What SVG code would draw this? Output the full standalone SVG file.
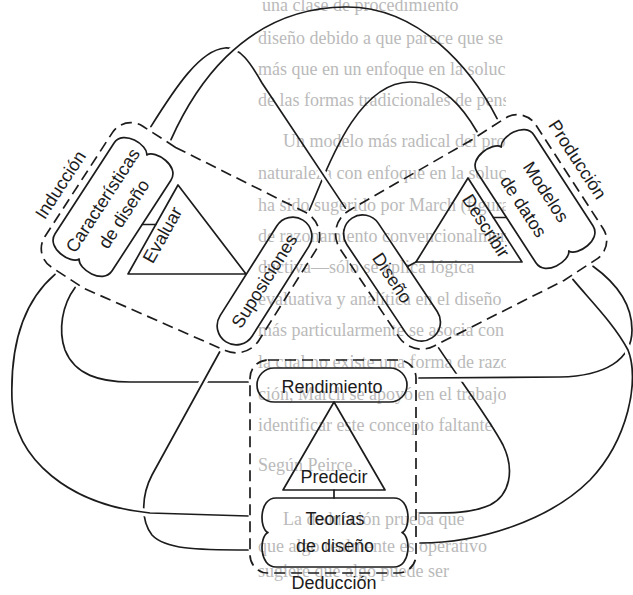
<svg xmlns="http://www.w3.org/2000/svg" width="633" height="595" viewBox="0 0 633 595">
  <defs>
    <style>
      .ln{fill:none;stroke:#1c1c1c;stroke-width:1.7;stroke-linecap:round;stroke-linejoin:round}
      .dash{fill:none;stroke:#1c1c1c;stroke-width:1.7;stroke-dasharray:11 6}
      .halo{fill:none;stroke:#fff;stroke-width:8}
      .lbl{font-family:"Liberation Sans",Arial,sans-serif;font-size:18px;fill:#1c1c1c;text-anchor:middle}
      .page{font-family:"Liberation Serif","Times New Roman",serif;font-size:18px;fill:#bababa}
    </style>
    <!-- knot strands -->
    <path id="pA" d="M171,139.7 C191,95 240,8 345,7 C420,6 472,70 497.1,118.6"/>
    <path id="pB" d="M309.4,210 C325,175 355,82 410,82 C443,82 463,108 477,131.7"/>
    <path id="pC" d="M150.9,126.6 C175,88 200,50 225,48 C240,47 250,62 262,83 L345.4,208.1"/>
    <path id="pD" d="M438.6,347.9 C460,380 490,420 503,445 C515,470 510,495 490,505 C470,514 445,513 420,513"/>
    <path id="pE" d="M572.9,279.4 C590,300 615,325 628,350 C640,380 628,440 590,480 C550,520 480,543 420,543"/>
    <path id="pF" d="M593,266.3 C612,280 632,300 632,330 C632,360 605,376 560,377 L419,378"/>
    <path id="pG" d="M55,274.3 C25,300 10,340 12,400 C14,460 70,505 150,513 L248,516"/>
    <path id="pH" d="M75.1,287.4 C62,305 58,330 65,350 C75,375 100,382 130,382 L248,382"/>
    <path id="pI" d="M219.6,352 L152,475 C142,494 140,520 152,535 C165,549 195,550 248,550"/>
    <!-- crossing windows: the strand drawn over clears a gap in the one below -->
    <clipPath id="xAC"><circle cx="235" cy="49.5" r="8"/></clipPath>
    <clipPath id="xCB"><circle cx="323.6" cy="176" r="8"/></clipPath>
    <clipPath id="xFD"><circle cx="459.5" cy="377.5" r="8"/></clipPath>
    <clipPath id="xEF"><circle cx="627.7" cy="349.5" r="8"/></clipPath>
    <clipPath id="xIH"><circle cx="203.4" cy="382" r="8"/></clipPath>
    <clipPath id="xGI"><circle cx="143.9" cy="512.8" r="8"/></clipPath>
    <!-- the printed column is cut at its right edge -->
    <clipPath id="column"><rect x="250" y="0" width="256" height="595"/></clipPath>
    <!-- cloud outline, long axis horizontal -->
    <path id="cloud68" d="M-54,-34 L54,-34 C71,-34 71,-4 62,0 C71,4 71,34 54,34 L-54,34 C-71,34 -71,4 -62,0 C-71,-4 -71,-34 -54,-34 Z"/>
  </defs>

  <rect width="633" height="595" fill="#ffffff"/>

  <!-- faded page text behind the figure -->
  <g id="page-text" class="page" clip-path="url(#column)">
    <text x="262" y="11">una clase de procedimiento</text>
    <text x="258" y="44">diseño debido a que parece que se</text>
    <text x="258" y="75">más que en un enfoque en la solución</text>
    <text x="258" y="106">de las formas tradicionales de pensamiento</text>
    <text x="283" y="147">Un modelo más radical del proceso</text>
    <text x="258" y="179">naturaleza con enfoque en la solución</text>
    <text x="258" y="211">ha sido sugerido por March (figura</text>
    <text x="258" y="242">de razonamiento convencionalmente</text>
    <text x="258" y="273">ductiva—sólo se aplica lógica</text>
    <text x="258" y="305">evaluativa y analítica en el diseño</text>
    <text x="258" y="336">más particularmente se asocia con</text>
    <text x="258" y="368">la cual no existe una forma de razonar</text>
    <text x="258" y="400">ción, March se apoyó en el trabajo</text>
    <text x="258" y="431">identificar este concepto faltante</text>
    <text x="258" y="471">Según Peirce,</text>
    <text x="283" y="525">La deducción prueba que</text>
    <text x="258" y="552">que algo realmente es operativo</text>
    <text x="258" y="577">sugiere que algo puede ser</text>
  </g>

  <!-- solid connectors (over/under knot) -->
  <g id="connectors">
    <use href="#pB" class="ln"/>
    <use href="#pC" class="halo" clip-path="url(#xCB)"/>
    <use href="#pC" class="ln"/>
    <use href="#pA" class="halo" clip-path="url(#xAC)"/>
    <use href="#pA" class="ln"/>
    <use href="#pD" class="ln"/>
    <use href="#pF" class="halo" clip-path="url(#xFD)"/>
    <use href="#pF" class="ln"/>
    <use href="#pE" class="halo" clip-path="url(#xEF)"/>
    <use href="#pE" class="ln"/>
    <use href="#pH" class="ln"/>
    <use href="#pI" class="halo" clip-path="url(#xIH)"/>
    <use href="#pI" class="ln"/>
    <use href="#pG" class="halo" clip-path="url(#xGI)"/>
    <use href="#pG" class="ln"/>
  </g>

  <!-- dashed frames -->
  <g id="frames">
    <path class="dash" d="M175.6,147.4 L304.9,212.1 A27,27 0 0 1 315.6,250.6 L259,340.2 A27,27 0 0 1 225.3,350.5 L84,288.4 L51.3,267.1 A22,22 0 0 1 44.8,236.7 L112.4,132.6 A22,22 0 0 1 142.8,126.2 Z"/>
    <path class="dash" d="M472.4,139.4 L349.1,210.5 A27,27 0 0 0 340.1,248.9 L399,337.1 A27,27 0 0 0 433.6,346.2 L564,280.4 L596.7,259.1 A22,22 0 0 0 603.2,228.7 L535.6,124.6 A22,22 0 0 0 505.2,118.2 Z"/>
    <rect class="dash" x="250" y="360" width="166" height="213" rx="18"/>
  </g>

  <g id="induccion" transform="translate(113,207) rotate(-57)">
    <use href="#cloud68" class="ln"/>
    <text class="lbl" x="0" y="-6">Características</text>
    <text class="lbl" x="0" y="19">de diseño</text>
    <text class="lbl" x="-10" y="-50">Inducción</text>
  </g>

  <g id="evaluar">
    <polygon class="ln" points="178,185 128,274 246,274"/>
    <line class="ln" x1="142.2" y1="224.5" x2="155.8" y2="224.5"/>
    <text class="lbl" transform="translate(167.8,237.8) rotate(-60.7)">Evaluar</text>
  </g>

  <g id="suposiciones" transform="translate(264.5,281) rotate(-57.7)">
    <rect class="ln" x="-72" y="-19" width="144" height="38" rx="19"/>
    <text class="lbl" x="0" y="6">Suposiciones</text>
  </g>

  <g id="produccion" transform="translate(535,199) rotate(57)">
    <use href="#cloud68" class="ln"/>
    <text class="lbl" x="0" y="-7">Modelos</text>
    <text class="lbl" x="0" y="20">de datos</text>
    <text class="lbl" x="-10" y="-51">Producción</text>
  </g>

  <g id="describir">
    <polygon class="ln" points="468,178 416,262 522,262"/>
    <line class="ln" x1="416" y1="262" x2="407.5" y2="266.5"/>
    <line class="ln" x1="493.4" y1="217.5" x2="506" y2="217.5"/>
    <text class="lbl" transform="translate(480.7,229.2) rotate(57.3)">Describir</text>
  </g>

  <g id="diseno" transform="translate(392,278) rotate(56.3)">
    <rect class="ln" x="-72" y="-19" width="144" height="38" rx="19"/>
    <text class="lbl" x="0" y="6">Diseño</text>
  </g>

  <g id="deduccion">
    <rect class="ln" x="257" y="368" width="150" height="34" rx="17"/>
    <text class="lbl" x="332" y="393">Rendimiento</text>
    <polygon class="ln" points="334,402 283,490 385,490"/>
    <text class="lbl" x="334" y="483">Predecir</text>
    <line class="ln" x1="334" y1="490" x2="334" y2="498"/>
    <path class="ln" d="M276,498 L394,498 C411,498 411,528.5 402,532.5 C411,536.5 411,567 394,567 L276,567 C259,567 259,536.5 268,532.5 C259,528.5 259,498 276,498 Z"/>
    <text class="lbl" x="335" y="525">Teorías</text>
    <text class="lbl" x="335" y="552">de diseño</text>
    <text class="lbl" x="334" y="589">Deducción</text>
  </g>
</svg>
